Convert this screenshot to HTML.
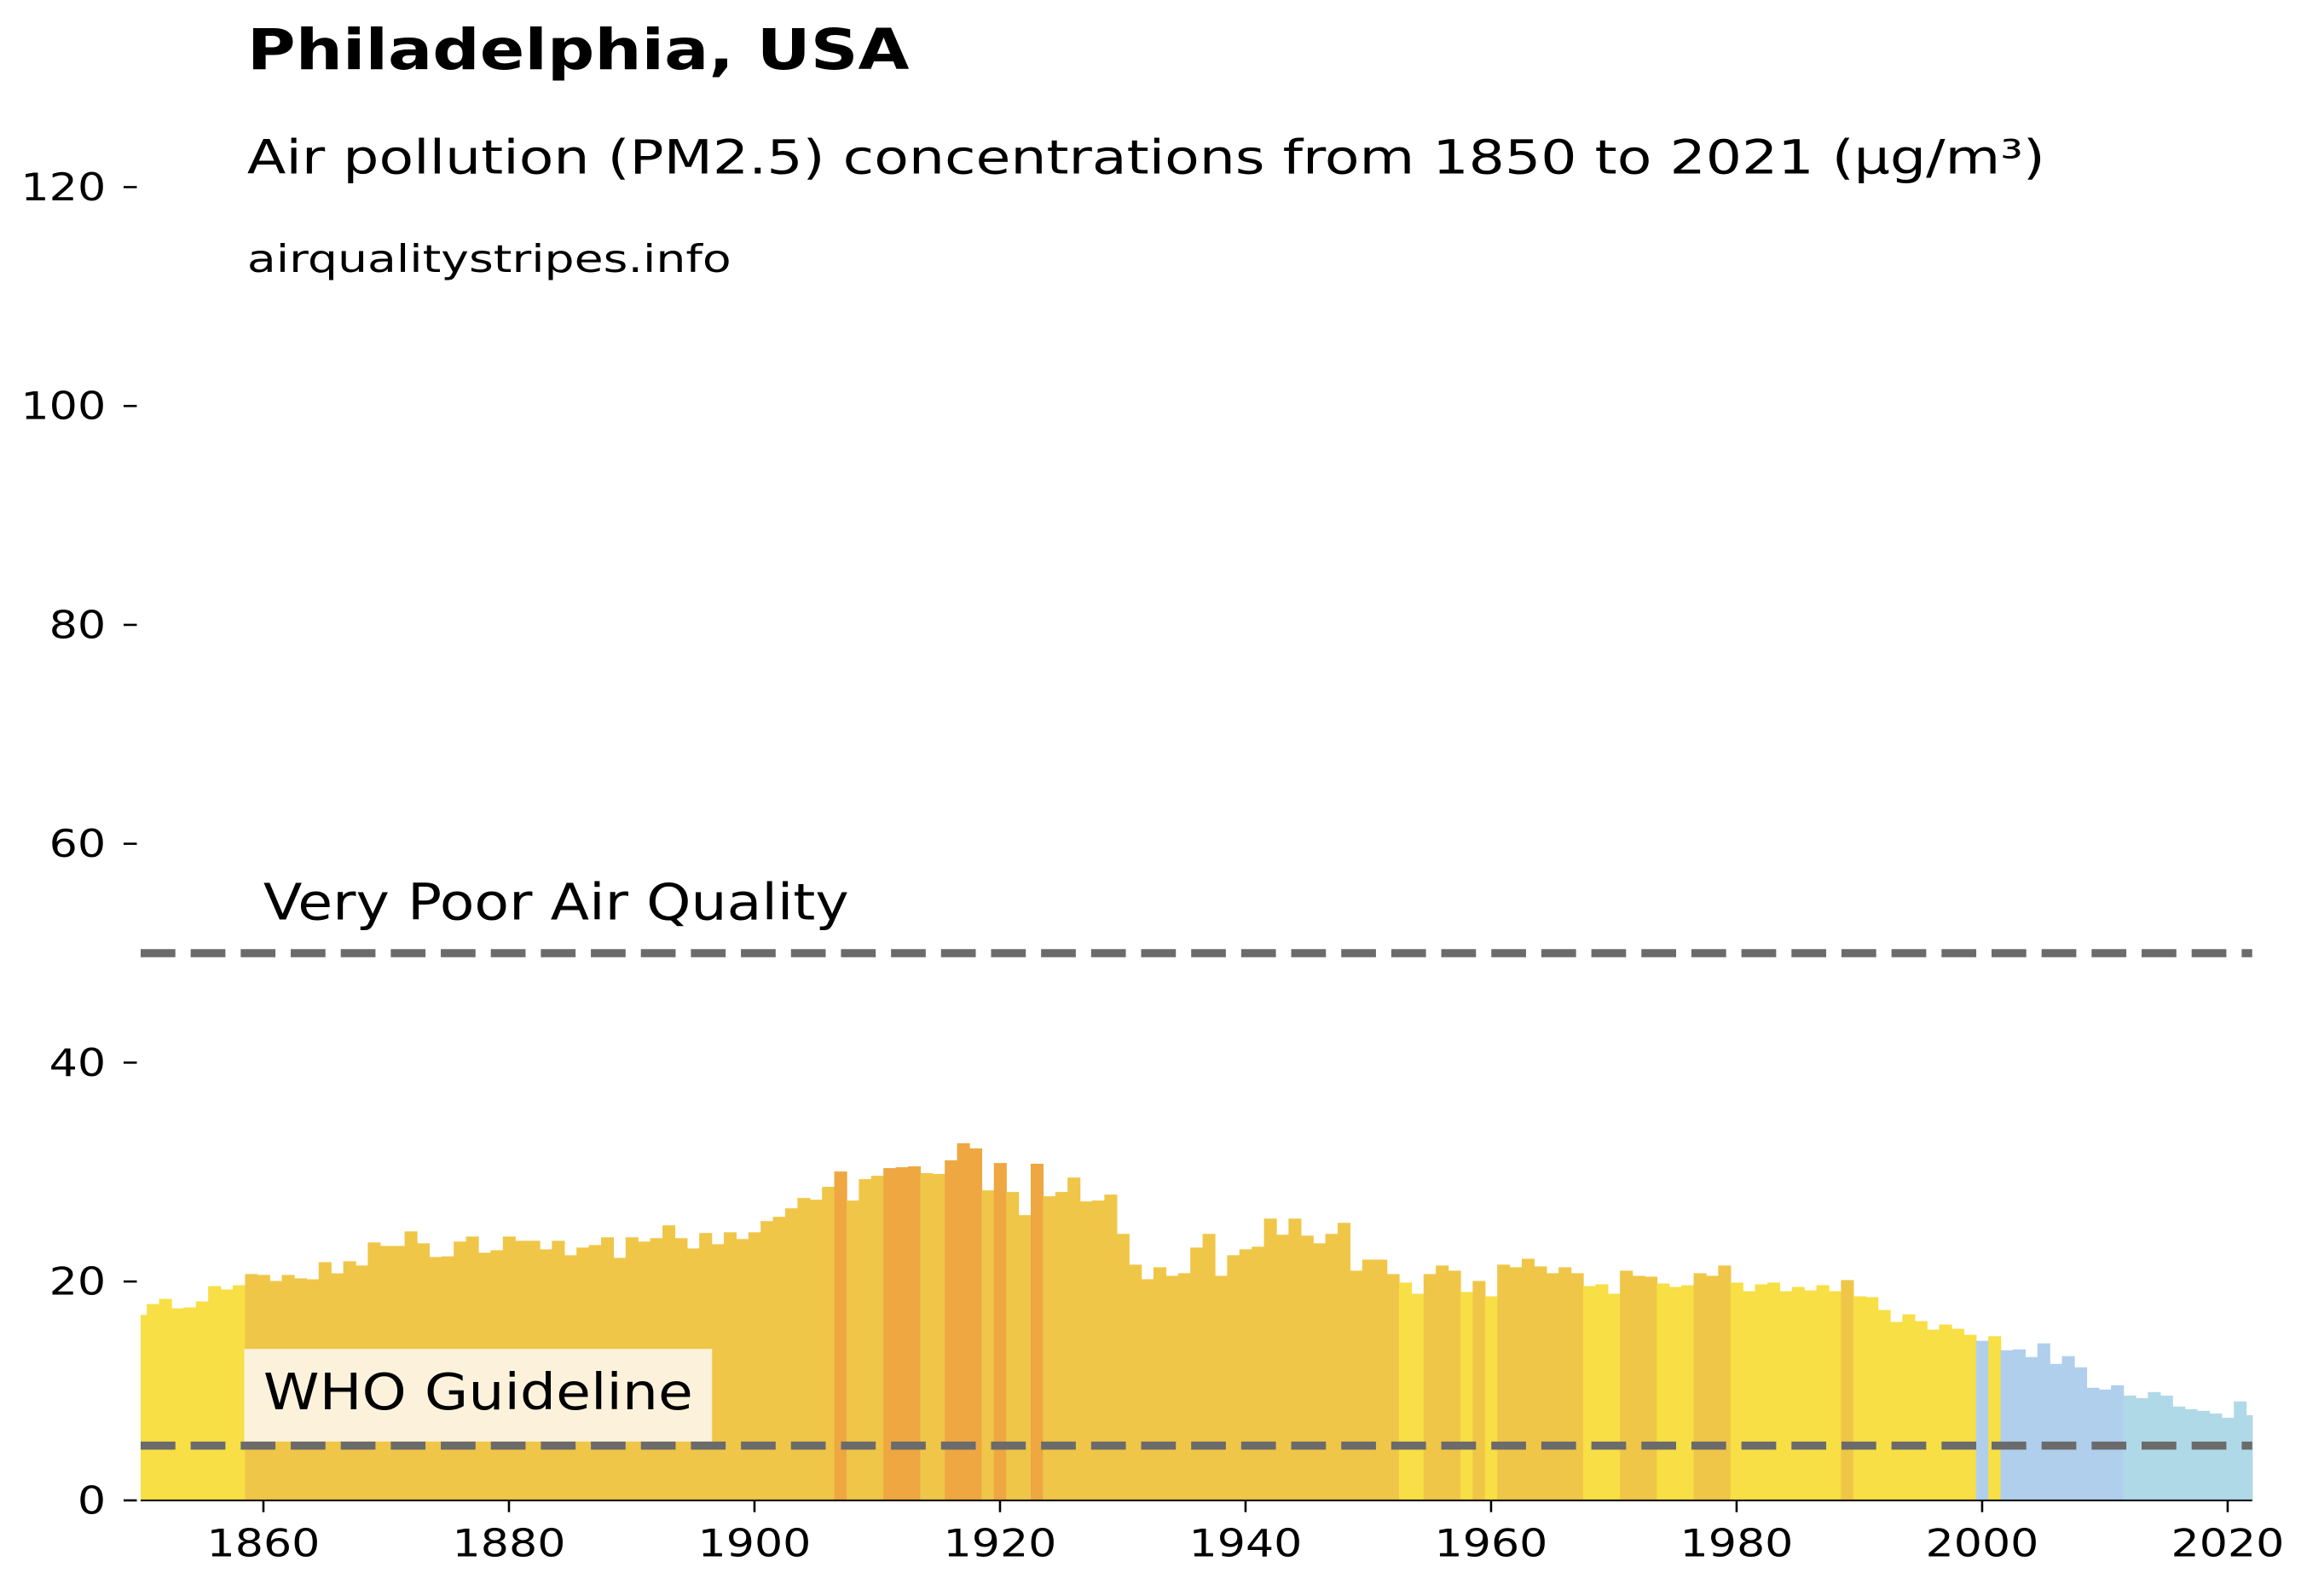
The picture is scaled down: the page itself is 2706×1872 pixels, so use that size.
<!DOCTYPE html>
<html><head><meta charset="utf-8"><style>
html,body{margin:0;padding:0;background:#fff;}
svg{display:block;}
text{font-family:"DejaVu Sans","Liberation Sans",sans-serif;}
</style></head><body>
<svg id="chart" width="2706" height="1872" viewBox="0 0 1568 1085" preserveAspectRatio="none" xmlns="http://www.w3.org/2000/svg">
<g id="bars"></g>
<rect x="166" y="917" width="318" height="63" fill="#fcf2dc"/>
<text x="179" y="958" font-size="34" fill="#000" textLength="292" lengthAdjust="spacingAndGlyphs">WHO Guideline</text>
<text x="179" y="625" font-size="34" fill="#000" textLength="398" lengthAdjust="spacingAndGlyphs">Very Poor Air Quality</text>
<g id="lines"></g>
<g id="axes"></g>
<text x="168" y="47" font-size="38" font-weight="bold" fill="#000" textLength="450" lengthAdjust="spacingAndGlyphs">Philadelphia, USA</text>
<text x="168" y="118" font-size="32" fill="#000" textLength="1222" lengthAdjust="spacingAndGlyphs">Air pollution (PM2.5) concentrations from 1850 to 2021 (µg/m³)</text>
<text x="168" y="185" font-size="26" fill="#000" textLength="329" lengthAdjust="spacingAndGlyphs">airqualitystripes.info</text>
</svg>
<script>
const startYear = 1850;
const values = [
16.95,17.94,18.41,17.55,17.63,18.18,19.58,19.27,19.66,20.68,
20.6,20.05,20.6,20.29,20.2,21.77,20.75,21.85,21.46,23.57,
23.25,23.25,24.58,23.49,22.24,22.3,23.65,24.11,22.63,22.86,
24.11,23.72,23.72,22.94,23.72,22.4,23.1,23.33,24.04,22.16,
24.04,23.65,23.96,25.13,23.96,23.02,24.43,23.41,24.5,23.88,
24.5,25.52,25.91,26.69,27.63,27.47,28.65,30.05,27.4,29.35,
29.66,30.36,30.44,30.52,29.9,29.82,31.07,32.63,32.16,28.33,
30.83,28.18,26.07,30.76,27.79,28.18,29.5,27.32,27.4,27.94,
24.35,21.54,20.21,21.3,20.52,20.76,23.1,24.35,20.52,22.4,
22.94,23.18,25.75,24.27,25.75,24.19,23.49,24.35,25.36,20.99,
22.0,22.0,20.68,19.9,18.88,20.68,21.46,20.99,19.04,20.05,
18.65,21.54,21.3,22.08,21.38,20.76,21.3,20.76,19.58,19.74,
18.88,20.99,20.52,20.44,19.82,19.5,19.66,20.76,20.52,21.46,
19.9,19.11,19.74,19.9,19.11,19.5,19.19,19.66,19.11,20.13,
18.65,18.57,17.4,16.3,17.0,16.38,15.6,16.07,15.68,15.13,
14.58,15.0,13.72,13.8,13.1,14.35,12.47,13.18,12.16,10.29,
10.13,10.52,9.58,9.35,9.9,9.58,8.57,8.33,8.18,7.94,
7.55,9.04,7.79
];
const yTicks = [0,20,40,60,80,100,120];
const xTicks = [1860,1880,1900,1920,1940,1960,1980,2000,2020];
const thresholds = [5,50];

const NS = "http://www.w3.org/2000/svg";
const xMin = 1850, xMax = 2022;
const x = yr => 95.6 + (yr - xMin) * 8.344;
const y = v => 1020 - v * 7.44;
function color(v){
  if (v >= 30) return "#eea741";
  if (v >= 20) return "#f0c648";
  if (v >= 15) return "#f7df45";
  if (v >= 10) return "#b0cfec";
  return "#b0d9e8";
}
const bars = document.getElementById('bars');
values.forEach((v,i)=>{
  const yr = startYear + i;
  const l = Math.max(xMin, yr - 0.5), r = Math.min(xMax, yr + 0.5);
  const rect = document.createElementNS(NS,'rect');
  rect.setAttribute('x', x(l));
  rect.setAttribute('width', x(r) - x(l) + 0.4);
  rect.setAttribute('y', y(v));
  rect.setAttribute('height', y(0) - y(v));
  rect.setAttribute('fill', color(v));
  
  
  bars.appendChild(rect);
});
const lines = document.getElementById('lines');
thresholds.forEach(t=>{
  const ln = document.createElementNS(NS,'line');
  ln.setAttribute('x1', x(xMin)); ln.setAttribute('x2', x(xMax));
  ln.setAttribute('y1', y(t)); ln.setAttribute('y2', y(t));
  ln.setAttribute('stroke', '#6b6b6b');
  ln.setAttribute('stroke-width', '5.5');
  ln.setAttribute('stroke-dasharray', '23.6 10.4');
  
  
  lines.appendChild(ln);
});
const axes = document.getElementById('axes');
const base = document.createElementNS(NS,'line');
base.setAttribute('x1', x(xMin)); base.setAttribute('x2', x(xMax));
base.setAttribute('y1', 1020); base.setAttribute('y2', 1020);
base.setAttribute('stroke', '#000'); base.setAttribute('stroke-width', '1.2');


axes.appendChild(base);
yTicks.forEach(t=>{
  const tk = document.createElementNS(NS,'line');
  tk.setAttribute('x1', 84); tk.setAttribute('x2', 93);
  tk.setAttribute('y1', y(t)); tk.setAttribute('y2', y(t));
  tk.setAttribute('stroke', '#000'); tk.setAttribute('stroke-width', '1.5');
  
  
  axes.appendChild(tk);
  const tx = document.createElementNS(NS,'text');
  tx.setAttribute('x', 72); tx.setAttribute('y', y(t) + 9);
  tx.setAttribute('text-anchor', 'end'); tx.setAttribute('font-size', '26');
  tx.setAttribute('textLength', String(t).length * 19.3);
  tx.setAttribute('lengthAdjust', 'spacingAndGlyphs');
  tx.textContent = t;
  
  
  axes.appendChild(tx);
});
xTicks.forEach(t=>{
  const tk = document.createElementNS(NS,'line');
  tk.setAttribute('x1', x(t)); tk.setAttribute('x2', x(t));
  tk.setAttribute('y1', 1020); tk.setAttribute('y2', 1028);
  tk.setAttribute('stroke', '#000'); tk.setAttribute('stroke-width', '1.5');
  
  
  axes.appendChild(tk);
  const tx = document.createElementNS(NS,'text');
  tx.setAttribute('x', x(t)); tx.setAttribute('y', 1058);
  tx.setAttribute('text-anchor', 'middle'); tx.setAttribute('font-size', '26');
  tx.setAttribute('textLength', 77);
  tx.setAttribute('lengthAdjust', 'spacingAndGlyphs');
  tx.textContent = t;
  
  
  axes.appendChild(tx);
});
</script>
</body></html>
